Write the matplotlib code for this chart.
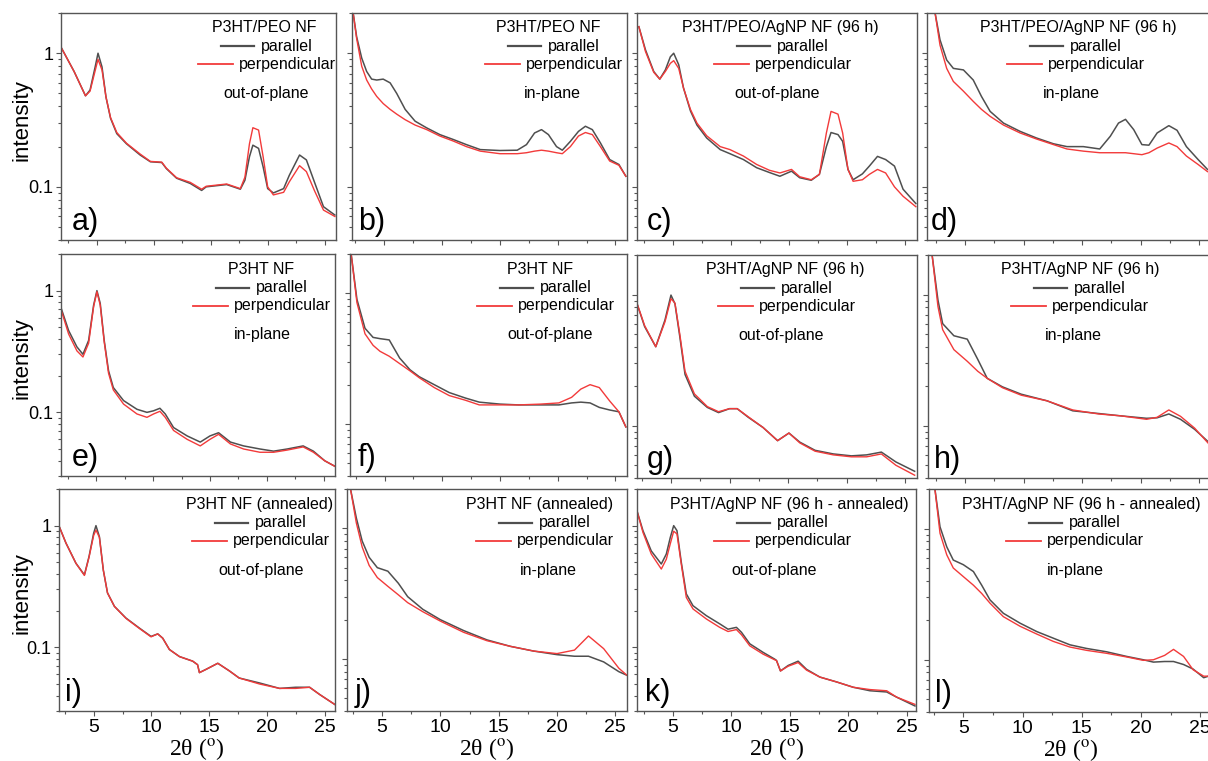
import matplotlib.pyplot as plt
from matplotlib.ticker import FixedLocator, MultipleLocator, NullFormatter, FuncFormatter

plt.rcParams['font.family'] = ['Liberation Sans', 'DejaVu Sans']
plt.rcParams['mathtext.fontset'] = 'stix'

# ---- data (2theta in deg, normalised intensity) ----
a_x = [1.9, 3.0, 4.0, 4.4, 4.85, 5.1, 5.45, 5.8, 6.2, 6.75, 7.6, 8.8, 9.7, 10.7, 11.1, 12.0, 13.2, 14.2, 14.6, 16.4,
       17.6, 18.0, 18.4, 18.7, 19.2, 19.6, 20.0, 20.5, 21.4, 21.9, 22.8, 23.4, 24.1, 24.9, 25.9]
a_par = [1.09, 0.73, 0.48, 0.53, 0.79, 1.0, 0.79, 0.47, 0.326, 0.25, 0.21, 0.173, 0.154, 0.152, 0.137, 0.116, 0.106, 0.094, 0.1, 0.104,
         0.096, 0.112, 0.168, 0.205, 0.194, 0.141, 0.097, 0.090, 0.097, 0.122, 0.173, 0.159, 0.109, 0.071, 0.0615]
a_perp = [1.09, 0.73, 0.48, 0.52, 0.74, 0.90, 0.75, 0.47, 0.33, 0.255, 0.212, 0.176, 0.155, 0.153, 0.138, 0.117, 0.108, 0.096, 0.101, 0.105,
          0.097, 0.118, 0.21, 0.277, 0.266, 0.168, 0.1, 0.087, 0.091, 0.109, 0.144, 0.13, 0.094, 0.067, 0.06]

b_x = [2.3, 2.6, 3.04, 3.47, 3.9, 4.34, 4.9, 5.5, 6.07, 6.8, 7.66, 8.67, 9.8, 10.97, 12.1, 13.3, 15.0, 16.5, 17.3, 18.0,
       18.6, 19.2, 19.9, 20.4, 21.1, 21.8, 22.4, 23.0, 23.7, 24.5, 25.3, 25.9]
b_par = [2.0, 1.33, 0.92, 0.73, 0.64, 0.63, 0.64, 0.60, 0.50, 0.38, 0.31, 0.276, 0.246, 0.226, 0.207, 0.19, 0.187, 0.188, 0.207, 0.253,
         0.268, 0.246, 0.2, 0.188, 0.219, 0.26, 0.284, 0.268, 0.213, 0.16, 0.147, 0.12]
b_perp = [2.0, 1.29, 0.80, 0.63, 0.54, 0.475, 0.42, 0.38, 0.35, 0.318, 0.29, 0.268, 0.24, 0.22, 0.2, 0.185, 0.177, 0.177, 0.18, 0.185,
          0.188, 0.185, 0.18, 0.177, 0.2, 0.24, 0.255, 0.246, 0.2, 0.156, 0.145, 0.12]

c_x = [2.06, 2.63, 3.34, 3.86, 4.34, 4.77, 5.06, 5.49, 5.9, 6.5, 7.06, 7.9, 9.06, 9.9, 11.06, 12.2, 13.3, 14.2, 15.2, 15.9,
       16.9, 17.6, 18.2, 18.6, 19.2, 19.6, 20.06, 20.5, 21.3, 21.9, 22.6, 23.3, 24.06, 24.8, 25.9]
c_par = [1.58, 1.06, 0.73, 0.64, 0.75, 0.94, 1.0, 0.82, 0.55, 0.37, 0.29, 0.232, 0.19, 0.177, 0.16, 0.139, 0.128, 0.12, 0.131, 0.117,
         0.112, 0.124, 0.2, 0.255, 0.246, 0.219, 0.135, 0.113, 0.125, 0.143, 0.169, 0.16, 0.143, 0.096, 0.075]
c_perp = [1.58, 1.03, 0.72, 0.64, 0.73, 0.84, 0.88, 0.77, 0.55, 0.38, 0.30, 0.241, 0.2, 0.19, 0.17, 0.147, 0.133, 0.127, 0.135, 0.119,
          0.113, 0.124, 0.253, 0.367, 0.35, 0.253, 0.135, 0.11, 0.113, 0.124, 0.135, 0.127, 0.1, 0.085, 0.071]

d_x = [2.44, 2.86, 3.43, 4.0, 4.86, 5.7, 6.4, 7.14, 8.28, 9.7, 11.1, 12.55, 13.7, 15.1, 16.5, 17.4, 18.1, 18.7, 19.4, 20.1,
       20.7, 21.4, 22.4, 23.1, 23.9, 24.9, 25.7]
d_par = [2.0, 1.26, 0.89, 0.77, 0.75, 0.63, 0.475, 0.367, 0.3, 0.26, 0.232, 0.21, 0.2, 0.2, 0.192, 0.239, 0.3, 0.32, 0.268, 0.207,
         0.205, 0.253, 0.287, 0.265, 0.2, 0.16, 0.135]
d_perp = [2.0, 1.15, 0.77, 0.615, 0.52, 0.436, 0.38, 0.337, 0.29, 0.253, 0.228, 0.207, 0.192, 0.185, 0.18, 0.18, 0.18, 0.18, 0.177, 0.174,
          0.18, 0.195, 0.213, 0.2, 0.17, 0.147, 0.13]

e_x = [1.92, 2.57, 3.3, 3.83, 4.33, 4.77, 5.06, 5.35, 5.7, 6.08, 6.5, 7.4, 8.58, 9.46, 10.04, 10.6, 11.07, 11.8, 13.0, 14.15,
       15.0, 15.76, 16.8, 17.96, 19.4, 20.6, 21.8, 23.2, 24.1, 25.1, 26.0]
e_par = [0.715, 0.47, 0.345, 0.30, 0.39, 0.76, 1.0, 0.786, 0.39, 0.22, 0.16, 0.125, 0.106, 0.1, 0.103, 0.108, 0.097, 0.075, 0.064, 0.057,
         0.064, 0.068, 0.057, 0.053, 0.05, 0.048, 0.05, 0.053, 0.048, 0.04, 0.036]
e_perp = [0.69, 0.44, 0.32, 0.285, 0.37, 0.74, 0.98, 0.76, 0.38, 0.21, 0.153, 0.117, 0.097, 0.091, 0.097, 0.102, 0.091, 0.071, 0.06, 0.053,
          0.06, 0.066, 0.055, 0.05, 0.047, 0.047, 0.049, 0.052, 0.047, 0.04, 0.036]

f_x = [2.1, 2.6, 3.3, 4.0, 4.6, 5.4, 6.3, 7.2, 8.0, 9.3, 10.6, 12.0, 13.2, 15.0, 16.6, 18.5, 20.1, 21.2, 22.0, 22.8,
       23.6, 24.5, 25.3, 25.9]
f_par = [2.0, 0.9, 0.54, 0.46, 0.45, 0.44, 0.32, 0.26, 0.23, 0.2, 0.174, 0.158, 0.147, 0.142, 0.14, 0.14, 0.14, 0.145, 0.147, 0.145,
         0.134, 0.128, 0.124, 0.095]
f_perp = [2.0, 0.85, 0.49, 0.4, 0.36, 0.33, 0.29, 0.255, 0.226, 0.19, 0.165, 0.152, 0.14, 0.14, 0.14, 0.142, 0.145, 0.16, 0.185, 0.2,
          0.19, 0.15, 0.124, 0.095]

g_x = [1.96, 2.75, 3.7, 4.49, 5.0, 5.34, 5.75, 6.2, 7.0, 8.1, 9.06, 10.0, 10.65, 11.6, 12.86, 14.1, 15.07, 16.0, 17.3, 18.86,
       20.4, 21.7, 22.96, 24.2, 25.8]
g_par = [0.93, 0.57, 0.40, 0.64, 0.99, 0.85, 0.48, 0.246, 0.168, 0.138, 0.126, 0.135, 0.135, 0.116, 0.097, 0.077, 0.088, 0.075, 0.065, 0.061,
         0.059, 0.06, 0.063, 0.053, 0.045]
g_perp = [0.93, 0.58, 0.40, 0.62, 0.93, 0.86, 0.5, 0.26, 0.175, 0.14, 0.128, 0.135, 0.135, 0.117, 0.097, 0.077, 0.088, 0.074, 0.064, 0.06,
          0.058, 0.058, 0.061, 0.05, 0.042]

h_x = [2.2, 2.7, 3.1, 4.06, 5.2, 6.1, 6.9, 8.2, 9.8, 12.0, 14.2, 16.4, 18.3, 20.5, 21.4, 22.4, 23.4, 24.6, 25.8]
h_par = [2.0, 0.906, 0.6, 0.485, 0.457, 0.32, 0.23, 0.198, 0.174, 0.155, 0.13, 0.124, 0.119, 0.114, 0.115, 0.123, 0.112, 0.094, 0.075]
h_perp = [2.0, 0.81, 0.54, 0.38, 0.31, 0.26, 0.23, 0.195, 0.171, 0.155, 0.132, 0.123, 0.119, 0.112, 0.116, 0.132, 0.118, 0.096, 0.073]

i_x = [1.97, 2.6, 3.47, 4.2, 4.6, 5.0, 5.2, 5.5, 5.84, 6.2, 6.8, 7.8, 8.96, 9.97, 10.55, 10.98, 11.56, 12.43, 13.58, 14.0,
       14.16, 14.74, 15.75, 16.76, 17.6, 19.36, 21.1, 22.5, 23.7, 24.57, 25.87]
i_par = [1.01, 0.72, 0.49, 0.394, 0.557, 0.865, 1.0, 0.81, 0.43, 0.28, 0.217, 0.174, 0.144, 0.123, 0.129, 0.119, 0.096, 0.084, 0.077, 0.072,
         0.062, 0.066, 0.074, 0.064, 0.056, 0.051, 0.046, 0.047, 0.047, 0.041, 0.034]
i_perp = [1.01, 0.72, 0.49, 0.39, 0.55, 0.83, 0.92, 0.80, 0.43, 0.28, 0.217, 0.173, 0.143, 0.122, 0.129, 0.119, 0.096, 0.084, 0.077, 0.072,
          0.062, 0.066, 0.074, 0.064, 0.056, 0.05, 0.046, 0.046, 0.047, 0.041, 0.034]

j_x = [2.3, 2.8, 3.3, 3.9, 4.6, 5.5, 6.4, 7.2, 8.5, 10.0, 12.0, 14.0, 16.0, 18.0, 20.0, 21.5, 22.7, 24.0, 25.3, 26.0]
j_par = [2.0, 1.2, 0.8, 0.6, 0.5, 0.47, 0.38, 0.3, 0.24, 0.2, 0.165, 0.14, 0.125, 0.115, 0.108, 0.105, 0.105, 0.095, 0.08, 0.075]
j_perp = [2.0, 1.1, 0.72, 0.52, 0.42, 0.36, 0.31, 0.27, 0.23, 0.195, 0.16, 0.138, 0.125, 0.115, 0.11, 0.117, 0.15, 0.12, 0.085, 0.075]

k_x = [1.91, 2.43, 3.14, 4.0, 4.43, 4.77, 5.06, 5.34, 5.71, 6.14, 6.71, 7.86, 9.0, 9.71, 10.43, 10.86, 11.57, 12.71, 13.71, 13.86,
       14.2, 14.86, 15.71, 16.43, 17.57, 19.0, 20.43, 21.86, 23.29, 24.14, 25.71]
k_par = [1.33, 0.91, 0.62, 0.484, 0.585, 0.8, 1.0, 0.91, 0.5, 0.275, 0.22, 0.182, 0.156, 0.141, 0.146, 0.133, 0.107, 0.091, 0.08, 0.078,
         0.064, 0.071, 0.077, 0.066, 0.057, 0.052, 0.047, 0.044, 0.043, 0.039, 0.033]
k_perp = [1.33, 0.88, 0.585, 0.44, 0.53, 0.71, 0.9, 0.855, 0.484, 0.257, 0.207, 0.171, 0.146, 0.135, 0.14, 0.127, 0.103, 0.088, 0.079, 0.078,
          0.064, 0.07, 0.075, 0.065, 0.057, 0.052, 0.047, 0.045, 0.044, 0.039, 0.034]

l_x = [2.6, 3.03, 3.6, 4.15, 5.0, 5.85, 6.55, 7.25, 8.38, 9.79, 11.2, 12.6, 14.0, 15.4, 17.1, 18.8, 20.2, 21.05, 22.0, 22.75,
       23.6, 24.4, 25.3, 25.7]
l_par = [2.0, 1.03, 0.725, 0.575, 0.53, 0.47, 0.37, 0.286, 0.226, 0.19, 0.164, 0.146, 0.13, 0.122, 0.115, 0.106, 0.1, 0.096, 0.097, 0.097,
         0.092, 0.085, 0.073, 0.075]
l_perp = [2.0, 0.92, 0.63, 0.5, 0.43, 0.37, 0.32, 0.27, 0.213, 0.18, 0.157, 0.138, 0.125, 0.118, 0.112, 0.105, 0.099, 0.1, 0.108, 0.12,
          0.106, 0.084, 0.075, 0.075]

xs = [a_x, b_x, c_x, d_x, e_x, f_x, g_x, h_x, i_x, j_x, k_x, l_x]
par = [a_par, b_par, c_par, d_par, e_par, f_par, g_par, h_par, i_par, j_par, k_par, l_par]
perp = [a_perp, b_perp, c_perp, d_perp, e_perp, f_perp, g_perp, h_perp, i_perp, j_perp, k_perp, l_perp]

letters = ['a)', 'b)', 'c)', 'd)', 'e)', 'f)', 'g)', 'h)', 'i)', 'j)', 'k)', 'l)']
titles = ['P3HT/PEO NF', 'P3HT/PEO NF', 'P3HT/PEO/AgNP NF (96 h)', 'P3HT/PEO/AgNP NF (96 h)',
          'P3HT NF', 'P3HT NF', 'P3HT/AgNP NF (96 h)', 'P3HT/AgNP NF (96 h)',
          'P3HT NF (annealed)', 'P3HT NF (annealed)', 'P3HT/AgNP NF (96 h - annealed)', 'P3HT/AgNP NF (96 h - annealed)']
geom = ['out-of-plane', 'in-plane', 'out-of-plane', 'in-plane',
        'in-plane', 'out-of-plane', 'out-of-plane', 'in-plane',
        'out-of-plane', 'in-plane', 'out-of-plane', 'in-plane']

# ---- layout (pixels of the 1208x761 picture) ----
W, H = 1208, 761
boxes = [(61, 336, 13, 240), (352, 627, 13, 240), (637, 917, 13, 240), (927, 1211, 13, 240),
         (61, 335, 254, 476), (350, 627, 254, 476), (637, 917, 255, 478), (928, 1211, 255, 478),
         (59, 335, 489, 711), (347, 627, 489, 711), (637, 916, 489, 711), (929, 1212, 489, 712)]
xlims = [(1.85, 26), (2.2, 26), (1.9, 26), (1.75, 26),
         (1.9, 26), (2.0, 26), (2.1, 26), (1.85, 26),
         (2.0, 25.9), (2.0, 26), (1.92, 25.8), (2.1, 26)]
ylims = [(0.04, 2), (0.04, 2), (0.04, 2), (0.04, 2),
         (0.03, 2), (0.04, 2), (0.04, 2), (0.04, 2),
         (0.03, 2), (0.04, 2), (0.03, 2), (0.04, 2)]
# legend centre (title, labels, note) in picture x pixels
leg_x = [(264, 287, 266), (548, 574, 552), (780, 803, 777), (1078, 1096, 1071),
         (261, 282, 262), (540, 566, 550), (785, 807, 781), (1080, 1100, 1073),
         (260, 281, 261), (540, 565, 548), (789, 803, 774), (1081, 1095, 1075)]
letter_dx = [11, 6, 10, 4, 11, 8, 10, 6, 6, 8, 8, 6]

grey = '#4f4f4f'
red = '#f23a3a'
spine = '#555555'

fig = plt.figure(figsize=(W / 100, H / 100), dpi=100)

for n in range(12):
    L, R, T, B = boxes[n]
    ax = fig.add_axes([L / W, 1 - B / H, (R - L) / W, (B - T) / H])
    ax.plot(xs[n], par[n], color=grey, lw=1.1)
    ax.plot(xs[n], perp[n], color=red, lw=1.0)
    ax.set_yscale('log')
    ax.set_xlim(*xlims[n])
    ax.set_ylim(*ylims[n])

    for s in ['top', 'right', 'left', 'bottom']:
        ax.spines[s].set_color(spine)
        ax.spines[s].set_linewidth(1.0)
    ax.xaxis.set_major_locator(MultipleLocator(5))
    ax.xaxis.set_minor_locator(MultipleLocator(2.5))
    ax.yaxis.set_major_locator(FixedLocator([0.01, 0.1, 1, 10]))
    ax.yaxis.set_minor_locator(FixedLocator([k * 10.0 ** p for p in (-2, -1, 0) for k in range(2, 10)]))
    ax.yaxis.set_major_formatter(FuncFormatter(lambda v, pos: '%g' % v))
    ax.yaxis.set_minor_formatter(NullFormatter())
    ax.tick_params(which='both', direction='out', color=spine, width=0.8, top=False, right=False)
    ax.tick_params(which='major', length=3.5)
    ax.tick_params(which='minor', length=2)
    ax.tick_params(axis='y', labelsize=13, pad=2)
    ax.tick_params(axis='x', labelsize=14, pad=2)
    if n % 4 != 0:
        ax.tick_params(axis='y', labelleft=False)
    else:
        ax.set_ylabel('intensity', fontsize=16)
        ax.yaxis.set_label_coords((32 - L) / (R - L), 0.53)
    if n < 8:
        ax.tick_params(axis='x', labelbottom=False)
    else:
        ax.set_xlabel(r'2θ ($^{\mathrm{o}}$)', fontsize=17, family='Liberation Serif', labelpad=0)

    # legend block drawn like the original (title, keys, note)
    w, h = R - L, B - T
    tx, lx, nx = leg_x[n]
    ax.text((tx - L) / w, 1 - 15 / h, titles[n], transform=ax.transAxes, ha='center', va='center', fontsize=11.5)
    ax.text((lx - L) / w, 1 - 33.5 / h, 'parallel', transform=ax.transAxes, ha='center', va='center', fontsize=11.5)
    ax.text((lx - L) / w, 1 - 51.5 / h, 'perpendicular', transform=ax.transAxes, ha='center', va='center', fontsize=11.5)
    ax.plot([(lx - 66 - L) / w, (lx - 33 - L) / w], [1 - 33.5 / h] * 2, color=grey, lw=1.6, transform=ax.transAxes)
    ax.plot([(lx - 89 - L) / w, (lx - 54 - L) / w], [1 - 51.5 / h] * 2, color=red, lw=1.3, transform=ax.transAxes)
    ax.text((nx - L) / w, 1 - 81 / h, geom[n], transform=ax.transAxes, ha='center', va='center', fontsize=11.5)
    ax.text(letter_dx[n] / w, 10 / h, letters[n], transform=ax.transAxes, ha='left', va='baseline', fontsize=22)

fig.savefig('out.png', dpi=100)
